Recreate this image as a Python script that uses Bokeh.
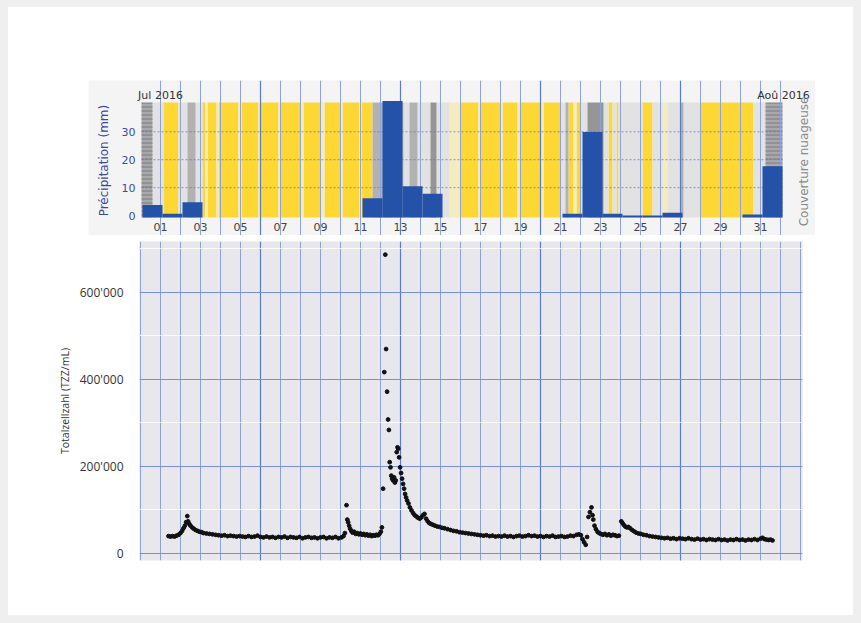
from bokeh.plotting import figure
from bokeh.models import FixedTicker, Grid, Spacer, Range1d
from bokeh.layouts import column, row
from bokeh.embed import file_html
from bokeh.resources import INLINE
from bokeh.core.properties import value

# ---------------- data ----------------
# daily precipitation (mm), day of month (32 = 1 Aug)
precip_days = list(range(1, 33))
precip_mm = [3.8, 0.6, 4.8, 0, 0, 0, 0, 0, 0, 0, 0, 6.2, 41.0, 10.5, 7.8,
             0, 0, 0, 0, 0, 0, 0.6, 29.9, 0.6, 0.05, 0.05, 1.0, 0, 0, 0, 0.4, 17.7]
precip_ticks = [0, 10, 20, 30]
precip_tick_labels = ["0", "10", "20", "30"]
precip_grid = [10, 20, 30]

# cloud cover periods (day of month)
cloud_start = [0.05, 0.60, 1.15, 1.90, 2.35, 2.75, 3.10, 3.25, 3.35, 3.80, 3.90, 4.90, 5.05, 5.90,
               6.00, 6.90, 7.00, 8.00, 8.15, 9.00, 9.20, 10.00, 10.10, 10.95, 11.05, 11.60, 13.15,
               13.45, 13.85, 14.50, 14.80, 15.45, 16.00, 16.90, 17.00, 18.00, 18.10, 18.85, 18.95,
               20.00, 20.15, 21.00, 21.25, 21.40, 21.65, 21.80, 22.00, 22.35, 23.15, 23.40, 23.60,
               23.80, 23.90, 25.10, 25.60, 26.10, 26.35, 27.00, 27.15, 28.00, 30.65, 31.25]
cloud_end = [0.60, 1.15, 1.90, 2.35, 2.75, 3.10, 3.25, 3.35, 3.80, 3.90, 4.90, 5.05, 5.90, 6.00,
             6.90, 7.00, 8.00, 8.15, 9.00, 9.20, 10.00, 10.10, 10.95, 11.05, 11.60, 13.15, 13.45,
             13.85, 14.50, 14.80, 15.45, 16.00, 16.90, 17.00, 18.00, 18.10, 18.85, 18.95, 20.00,
             20.15, 21.00, 21.25, 21.40, 21.65, 21.80, 22.00, 22.35, 23.15, 23.40, 23.60, 23.80,
             23.90, 25.10, 25.60, 26.10, 26.35, 27.00, 27.15, 28.00, 30.65, 31.25, 32.10]
cloud_type = ["rain", "light", "sun", "light", "mid", "light", "sun", "pale", "sun", "pale", "sun",
              "pale", "sun", "pale", "sun", "pale", "sun", "pale", "sun", "pale", "sun", "pale",
              "sun", "pale", "sun", "mid", "light", "mid", "light", "dark", "light", "pale", "sun",
              "pale", "sun", "pale", "sun", "pale", "sun", "pale", "sun", "light", "mid", "sun",
              "pale", "sun", "light", "dark", "light", "sun", "light", "sun", "light", "sun",
              "light", "pale", "light", "mid", "light", "sun", "light", "rain"]

day_ticks = [1, 3, 5, 7, 9, 11, 13, 15, 17, 19, 21, 23, 25, 27, 29, 31]
day_tick_labels = ["01", "03", "05", "07", "09", "11", "13", "15", "17", "19", "21", "23",
                   "25", "27", "29", "31"]
month_labels = ["Jul 2016", "Aoû 2016"]
month_days = [1, 32.15]
grid_days = list(range(0, 34))
week_days = [6, 13, 20, 27]

# total cell count (thousand cells/mL) vs day of month
tzz_day = [1.40, 1.50, 1.60, 1.70, 1.80, 1.90, 2.00, 2.08, 2.15, 2.22, 2.28, 2.34, 2.38, 2.44, 2.50,
           2.58, 2.66, 2.75, 2.85, 2.95, 3.05, 3.15, 3.30, 3.45, 3.60, 3.75, 3.90, 4.05, 4.20, 4.35,
           4.50, 4.65, 4.80, 4.95, 5.10, 5.25, 5.40, 5.55, 5.70, 5.85, 6.00, 6.15, 6.30, 6.45, 6.60,
           6.75, 6.90, 7.05, 7.20, 7.35, 7.50, 7.65, 7.80, 7.95, 8.10, 8.25, 8.40, 8.55, 8.70, 8.85,
           9.00, 9.15, 9.30, 9.45, 9.60, 9.75, 9.90, 10.05, 10.15, 10.22,
           10.30, 10.34, 10.38, 10.43, 10.48, 10.54, 10.60, 10.68, 10.76, 10.84, 10.92, 11.00,
           11.08, 11.16, 11.24, 11.32, 11.40, 11.48, 11.56, 11.64, 11.72, 11.80, 11.88, 11.95,
           12.02, 12.07,
           12.13, 12.19, 12.24, 12.28, 12.33, 12.38, 12.42, 12.46, 12.50, 12.54, 12.58, 12.63,
           12.68, 12.72, 12.76, 12.81, 12.85, 12.89, 12.93, 12.98, 13.03, 13.08, 13.13, 13.18,
           13.23, 13.28, 13.33, 13.40, 13.47, 13.55, 13.63, 13.71, 13.80, 13.88, 13.96, 14.04,
           14.12, 14.20, 14.28, 14.36, 14.44, 14.52, 14.62, 14.72, 14.84, 14.96, 15.08, 15.20,
           15.35, 15.50, 15.65, 15.80, 15.95, 16.10, 16.25, 16.40, 16.55, 16.70, 16.85, 17.00,
           17.15, 17.30, 17.45, 17.60, 17.75, 17.90, 18.05, 18.20, 18.35, 18.50, 18.65, 18.80,
           18.95, 19.10, 19.25, 19.40, 19.55, 19.70, 19.85, 20.00, 20.15, 20.30, 20.45, 20.60,
           20.75, 20.90, 21.05, 21.20, 21.35, 21.50, 21.65, 21.80, 21.92, 22.02,
           22.10, 22.18, 22.26, 22.33, 22.40, 22.47, 22.55, 22.60, 22.64, 22.70, 22.77, 22.85,
           22.93, 23.02, 23.12, 23.22, 23.32, 23.42, 23.52, 23.62, 23.72, 23.82, 23.92, 24.04,
           24.10, 24.16, 24.24, 24.32, 24.40, 24.48, 24.58, 24.68, 24.78, 24.90, 25.02, 25.15,
           25.30, 25.45, 25.60, 25.75, 25.90, 26.05, 26.20, 26.35, 26.50, 26.65, 26.80, 26.95,
           27.10, 27.25, 27.40, 27.55, 27.70, 27.85, 28.00, 28.15, 28.30, 28.45, 28.60, 28.75,
           28.90, 29.05, 29.20, 29.35, 29.50, 29.65, 29.80, 29.95, 30.10, 30.25, 30.40, 30.55,
           30.70, 30.85, 31.00, 31.10, 31.20, 31.30, 31.40, 31.50, 31.60]
tzz_k = [40, 39, 40, 39, 41, 43, 47, 52, 58, 64, 72, 86, 74, 68, 64,
         60, 57, 54, 52, 50, 49, 47, 46, 45, 44, 43, 42, 41, 42, 40,
         41, 40, 39, 40, 39, 38, 40, 38, 39, 41, 38, 37, 39, 37, 38,
         36, 38, 37, 39, 36, 38, 37, 36, 38, 35, 37, 38, 36, 37, 35,
         37, 38, 35, 37, 36, 38, 35, 37, 40, 47,
         111, 78, 72, 64, 57, 52, 48, 50, 45, 47, 44, 46,
         43, 45, 42, 44, 41, 43, 40, 42, 41, 43, 42, 45,
         50, 60,
         149, 417, 687, 470, 372, 308, 284, 210, 198, 179, 172, 168,
         175, 163, 168, 233, 244, 241, 221, 198, 185, 172, 160, 149,
         137, 129, 122, 115, 106, 99, 93, 88, 85, 82, 80, 83,
         88, 91, 80, 74, 70, 68, 66, 64, 62, 61, 59, 58,
         56, 54, 52, 51, 49, 48, 47, 46, 45, 44, 43, 42,
         41, 42, 40, 41, 39, 40, 39, 41, 39, 40, 38, 40,
         41, 39, 40, 42, 40, 41, 39, 40, 38, 40, 39, 41,
         38, 39, 40, 38, 39, 41, 40, 43, 44, 42,
         33, 26, 20, 38, 84, 95, 106, 88, 78, 64, 56, 50,
         47, 45, 43, 45, 42, 44, 41, 43, 42, 40, 41, 74,
         70, 66, 62, 60, 61, 58, 54, 51, 48, 46, 45, 43,
         42, 40, 39, 38, 37, 36, 35, 36, 34, 35, 33, 35,
         34, 33, 35, 33, 32, 34, 32, 33, 31, 33, 32, 31,
         33, 31, 32, 30, 32, 31, 33, 31, 32, 30, 32, 31,
         33, 31, 34, 36, 33, 32, 31, 32, 30]
tzz_ticks = [0, 200000, 400000, 600000]
tzz_minor = [100000, 300000, 500000, 700000]
tzz_tick_labels = ["0", "200'000", "400'000", "600'000"]

# ---------------- styles ----------------
CLOUD_COLORS = {"sun": "#fdd835", "pale": "#f4ecbe", "light": "#e2e2e2",
                "mid": "#b2b2b2", "dark": "#969696", "rain": "#a8a8a8"}
BAR_COLOR = "#2452a8"
AXIS_BLUE = "#3a4aa0"
LINE_MINOR = "#8ea3dc"
LINE_MAJOR = "#5b7bcf"
PANEL_BG = "#f4f4f4"
FONT_TOP = value("DejaVu Sans")

Y0, Y1 = -0.7, 40.5            # precipitation band (data units)
TOP_XR = (-2.6, 33.75)          # whole top panel box
TOP_YR = (-7.15, 48.38)
X0, X1 = 0.05, 32.1             # extent of the cloud/precip band

# ---------------- top panel (entire box is the frame) ----------------
top = figure(width=727, height=155, x_range=Range1d(*TOP_XR), y_range=Range1d(*TOP_YR),
             output_backend="svg", toolbar_location=None, x_axis_location=None,
             y_axis_location=None, min_border=0,
             background_fill_color=PANEL_BG, border_fill_color=PANEL_BG, outline_line_color=None)
top.grid.visible = False

for kind, col in CLOUD_COLORS.items():
    idx = [i for i, t in enumerate(cloud_type) if t == kind]
    if not idx:
        continue
    kw = {}
    if kind == "rain":
        kw = dict(hatch_pattern="horizontal_line", hatch_scale=4, hatch_color="#66667a",
                  hatch_alpha=0.7, hatch_weight=1)
    top.quad(left=[cloud_start[i] for i in idx], right=[cloud_end[i] for i in idx],
             bottom=Y0, top=Y1, fill_color=col, line_color=None, **kw)

# dashed horizontal grid
top.segment(x0=X0, x1=X1, y0=precip_grid, y1=precip_grid, line_color="#5a6fc0",
            line_alpha=0.7, line_dash="2 2", line_width=1)
# vertical day lines (full height of the box)
minor_top = [d for d in grid_days if X0 < d < X1 and d not in week_days]
top.segment(x0=minor_top, x1=minor_top, y0=TOP_YR[0], y1=TOP_YR[1], line_color=LINE_MINOR,
            line_width=1)
top.segment(x0=week_days, x1=week_days, y0=TOP_YR[0], y1=TOP_YR[1], line_color=LINE_MAJOR,
            line_width=1.2)

# bars
bar_x = [d - 0.4 for d, v in zip(precip_days, precip_mm) if v > 0]
bar_v = [v for v in precip_mm if v > 0]
top.vbar(x=bar_x, width=1.0, bottom=Y0, top=bar_v, fill_color=BAR_COLOR, line_color=None)

# x tick labels
top.text(x=day_ticks, y=-3.93, text=day_tick_labels, text_align="center",
         text_baseline="middle", text_font=FONT_TOP, text_font_size="11px",
         text_color="#444444")
# y tick labels
top.text(x=-0.25, y=precip_ticks, text=precip_tick_labels, text_align="right",
         text_baseline="middle", text_font=FONT_TOP, text_font_size="11px",
         text_color=AXIS_BLUE)
# y axis title
top.text(x=-1.85, y=19.7, text=["Précipitation (mm)"], angle=90, angle_units="deg",
         text_align="center", text_baseline="middle", text_font=FONT_TOP,
         text_font_size="12px", text_color=AXIS_BLUE)
# month labels
top.text(x=month_days, y=43.0, text=month_labels, text_align="center", text_baseline="middle",
         text_font=FONT_TOP, text_font_size="11px", text_color="#333333")
# right label
top.text(x=33.15, y=19.4, text=["Couverture nuageuse"], angle=90, angle_units="deg",
         text_align="center", text_baseline="middle", text_font=FONT_TOP,
         text_font_size="12px", text_color="#8a8a8a")

# ---------------- bottom panel ----------------
bot = figure(width=845, height=380, x_range=Range1d(-0.05, 33.1),
             y_range=Range1d(-16100, 717200), output_backend="svg", toolbar_location=None,
             x_axis_location=None, min_border_left=131, min_border_right=51, min_border_top=6,
             min_border_bottom=55, background_fill_color="#e8e8ec", border_fill_color="white",
             outline_line_color=None)
bot.grid.visible = False

bot.add_layout(Grid(dimension=0, ticker=FixedTicker(ticks=grid_days),
                    grid_line_color=LINE_MINOR, grid_line_width=1))
bot.add_layout(Grid(dimension=0, ticker=FixedTicker(ticks=week_days),
                    grid_line_color=LINE_MAJOR, grid_line_width=1.2))
bot.add_layout(Grid(dimension=1, ticker=FixedTicker(ticks=tzz_minor),
                    grid_line_color="white", grid_line_alpha=0.8, grid_line_width=1))
bot.add_layout(Grid(dimension=1, ticker=FixedTicker(ticks=tzz_ticks),
                    grid_line_color="#7590d8", grid_line_width=1))

bot.scatter(x=tzz_day, y=[v * 1000 for v in tzz_k], size=3.8, fill_color="#111111",
            line_color="#111111")

by = bot.yaxis[0]
by.ticker = FixedTicker(ticks=tzz_ticks)
by.major_label_overrides = {t: lab for t, lab in zip(tzz_ticks, tzz_tick_labels)}
by.axis_line_color = None
by.major_tick_line_color = None
by.minor_tick_line_color = None
by.major_label_standoff = 10
by.major_label_text_font = "Open Sans"
by.major_label_text_font_size = "12px"
by.major_label_text_color = "#333333"
by.axis_label = "Totalzellzahl (TZZ/mL)"
by.axis_label_text_font = "Open Sans"
by.axis_label_text_font_size = "10.5px"
by.axis_label_text_font_style = "normal"
by.axis_label_text_color = "#333333"
by.axis_label_standoff = 5

# ---------------- page: grey frame, white card ----------------
card = column(Spacer(width=845, height=73),
              row(Spacer(width=80, height=155), top),
              bot,
              styles={"background-color": "white"})
page = column(Spacer(width=861, height=7),
              row(Spacer(width=8, height=608), card, Spacer(width=8, height=608)),
              Spacer(width=861, height=8),
              styles={"background-color": "#efefef"})

open("out.html", "w").write(file_html(page, INLINE))
